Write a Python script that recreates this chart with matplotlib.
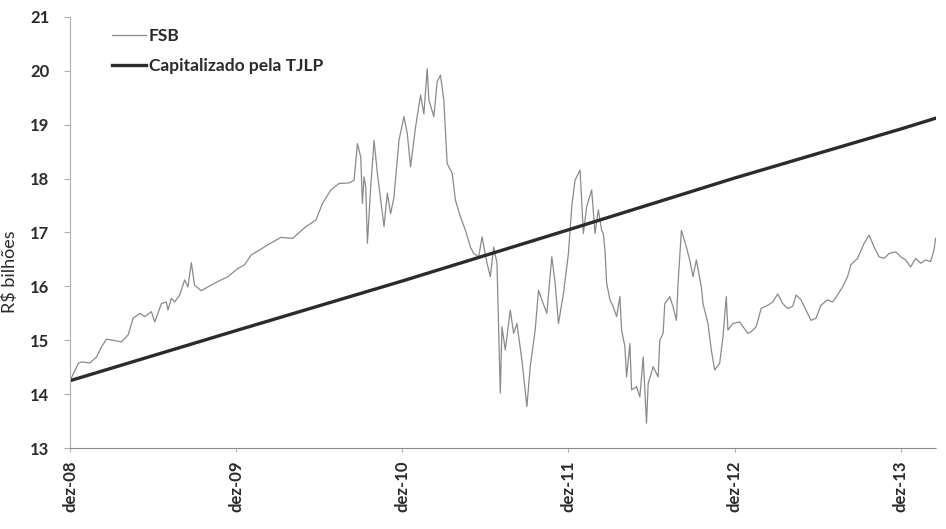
import matplotlib
matplotlib.use('Agg')
import matplotlib.pyplot as plt

plt.rcParams['font.family'] = ['Lato', 'DejaVu Sans']

# eixo x em anos contados a partir de dez-08
tick_labels = ['dez-08', 'dez-09', 'dez-10', 'dez-11', 'dez-12', 'dez-13']

fsb_t = [0.00, 0.05, 0.07, 0.12, 0.16, 0.19, 0.22, 0.26, 0.31, 0.35, 0.38, 0.42, 0.45, 0.49, 0.51,
         0.55, 0.58, 0.59, 0.61, 0.63, 0.66, 0.69, 0.71, 0.73, 0.75, 0.79, 0.83, 0.89, 0.95, 1.01,
         1.05, 1.09, 1.19, 1.27, 1.34, 1.42, 1.48, 1.52, 1.57, 1.62, 1.68, 1.71, 1.73, 1.75, 1.76,
         1.77, 1.78, 1.79, 1.81, 1.83, 1.85, 1.87, 1.89, 1.91, 1.93, 1.95, 1.98, 2.01, 2.03, 2.05,
         2.08, 2.11, 2.13, 2.15, 2.16, 2.19, 2.21, 2.23, 2.25, 2.27, 2.30, 2.32, 2.35, 2.38, 2.41,
         2.43, 2.46, 2.48, 2.51, 2.53, 2.55, 2.57, 2.59, 2.60, 2.62, 2.65, 2.67, 2.69, 2.72, 2.75,
         2.77, 2.80, 2.82, 2.84, 2.87, 2.90, 2.92, 2.94, 2.97, 3.00, 3.02, 3.04, 3.07, 3.09, 3.11,
         3.14, 3.16, 3.18, 3.20, 3.21, 3.22, 3.23, 3.25, 3.27, 3.29, 3.31, 3.32, 3.34, 3.35, 3.37,
         3.38, 3.41, 3.43, 3.45, 3.47, 3.48, 3.51, 3.54, 3.55, 3.57, 3.58, 3.61, 3.63, 3.65, 3.66,
         3.68, 3.71, 3.73, 3.75, 3.77, 3.80, 3.81, 3.84, 3.86, 3.88, 3.91, 3.93, 3.95, 3.96, 3.99,
         4.03, 4.08, 4.10, 4.13, 4.16, 4.20, 4.23, 4.26, 4.29, 4.32, 4.35, 4.37, 4.40, 4.43, 4.46,
         4.49, 4.52, 4.56, 4.59, 4.62, 4.65, 4.68, 4.70, 4.74, 4.78, 4.81, 4.84, 4.87, 4.90, 4.93,
         4.97, 5.00, 5.03, 5.06, 5.09, 5.12, 5.15, 5.18, 5.20, 5.21]

fsb_v = [14.25, 14.57, 14.60, 14.58, 14.69, 14.88, 15.02, 15.00, 14.97, 15.10, 15.41, 15.50, 15.44, 15.53, 15.34,
         15.68, 15.71, 15.56, 15.78, 15.71, 15.84, 16.12, 15.99, 16.44, 16.02, 15.92, 15.99, 16.09, 16.18, 16.33,
         16.40, 16.58, 16.77, 16.91, 16.89, 17.11, 17.23, 17.54, 17.79, 17.91, 17.92, 17.97, 18.65, 18.40, 17.54,
         18.03, 17.85, 16.80, 17.85, 18.71, 18.10, 17.60, 17.11, 17.73, 17.35, 17.66, 18.71, 19.15, 18.84, 18.22,
         18.96, 19.55, 19.20, 20.04, 19.46, 19.15, 19.80, 19.92, 19.46, 18.28, 18.10, 17.60, 17.29, 17.04, 16.73,
         16.61, 16.55, 16.92, 16.43, 16.18, 16.73, 16.43, 14.02, 15.25, 14.82, 15.56, 15.13, 15.31, 14.63, 13.77,
         14.51, 15.19, 15.93, 15.75, 15.50, 16.55, 16.06, 15.31, 15.87, 16.61, 17.48, 17.97, 18.16, 16.98, 17.48,
         17.79, 16.98, 17.42, 17.04, 16.98, 16.67, 16.06, 15.75, 15.62, 15.44, 15.81, 15.19, 14.88, 14.32, 14.94,
         14.08, 14.14, 13.95, 14.69, 13.46, 14.20, 14.51, 14.32, 15.00, 15.13, 15.68, 15.81, 15.62, 15.37, 16.06,
         17.04, 16.73, 16.49, 16.18, 16.49, 15.99, 15.68, 15.31, 14.82, 14.45, 14.57, 15.06, 15.81, 15.19, 15.31,
         15.34, 15.13, 15.16, 15.25, 15.59, 15.65, 15.71, 15.86, 15.68, 15.59, 15.63, 15.84, 15.75, 15.56, 15.37,
         15.41, 15.65, 15.75, 15.71, 15.84, 15.99, 16.18, 16.40, 16.52, 16.80, 16.95, 16.73, 16.55, 16.52, 16.61,
         16.64, 16.55, 16.49, 16.36, 16.52, 16.43, 16.49, 16.46, 16.67, 16.89]

tjlp_t = [0.0, 1.0, 2.0, 3.0, 4.0, 5.0, 5.21]
tjlp_v = [14.25, 15.18, 16.10, 17.05, 18.01, 18.92, 19.12]

fig = plt.figure(figsize=(9.46, 5.29), dpi=100)
ax = fig.add_axes([0.074, 0.153, 0.915, 0.815])

ax.plot(fsb_t, fsb_v, color='#8a8a8a', linewidth=0.9, label='FSB')
ax.plot(tjlp_t, tjlp_v, color='#2b2b2b', linewidth=2.4, label='Capitalizado pela TJLP')

ax.set_xlim(0, 5.21)
ax.set_ylim(13, 21)
ax.set_yticks(range(13, 22))
ax.set_xticks(range(len(tick_labels)))
ax.set_xticklabels(tick_labels, rotation=90)

for lbl in ax.get_xticklabels() + ax.get_yticklabels():
    lbl.set_fontsize(12)
    lbl.set_fontweight('bold')
    lbl.set_color('#2a2a2a')

ax.set_ylabel('R$ bilhões', fontsize=13, color='#2a2a2a')
ax.yaxis.set_label_coords(-0.06, 0.41)

ax.spines['top'].set_visible(False)
ax.spines['right'].set_visible(False)
ax.spines['left'].set_color('#b0b0b0')
ax.spines['bottom'].set_color('#8a8a8a')
ax.spines['bottom'].set_linestyle((0, (4, 1)))
ax.tick_params(axis='y', length=4, color='#b0b0b0', pad=11)
ax.tick_params(axis='x', length=3, color='#b0b0b0', pad=6)

leg = ax.legend(loc='upper left', bbox_to_anchor=(0.03, 1.01), frameon=False,
                handlelength=2.0, handletextpad=0.15, labelspacing=0.8,
                prop={'size': 12.5, 'weight': 'bold'})
for t in leg.get_texts():
    t.set_color('#2a2a2a')

fig.savefig('out.png', dpi=100)
